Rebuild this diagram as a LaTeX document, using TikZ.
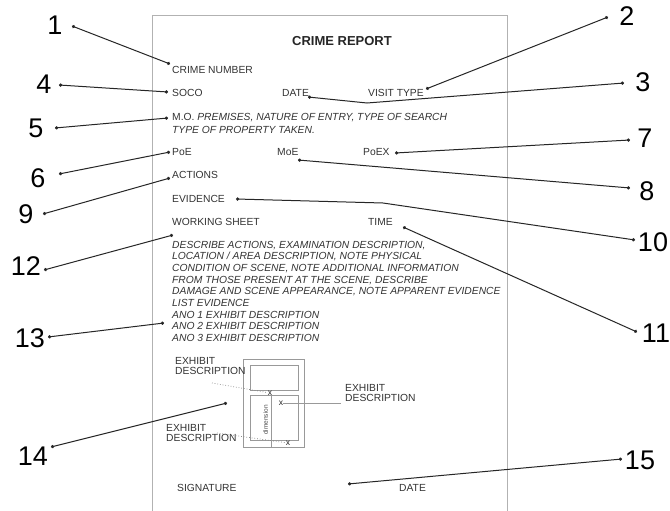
\documentclass[tikz,border=0pt]{standalone}
\usepackage{fontspec}
\setmainfont{Liberation Sans}
\usetikzlibrary{arrows.meta}
\begin{document}
\begin{tikzpicture}[x=1pt,y=-1pt,
  num/.style={inner sep=0pt, font=\fontsize{27}{27}\selectfont, text=black},
  lbl/.style={inner sep=0pt, anchor=base west, font=\fontsize{10.3}{12}\selectfont, text=black!80},
  itl/.style={lbl, font=\fontsize{10.3}{12}\selectfont\itshape},
  conn/.style={black!85, line width=1pt, {Circle[length=3.2pt]}-{Circle[length=3.2pt]}},
  pageline/.style={black!30, line width=0.6pt},
  exline/.style={black!40, line width=0.5pt},
  exdash/.style={black!50, line width=0.7pt, dotted},
  xmark/.style={inner sep=0pt, font=\fontsize{8.5}{8.5}\selectfont, text=black!85}]
\useasboundingbox (0,0) rectangle (670,511);
\clip (0,0) rectangle (670,511);
\fill[white] (0,0) rectangle (670,511);
% page
\draw[pageline] (152.5,15) rectangle (507.5,530);
\node[inner sep=0pt, font=\fontsize{13}{13}\selectfont\bfseries, text=black!85] (title) at (342,41) {CRIME REPORT};
% labels
\node[lbl] (crimeno) at (172,74) {CRIME NUMBER};
\node[lbl] (soco) at (172,97) {SOCO};
\node[lbl] (date1) at (282,97) {DATE};
\node[lbl] (visit) at (368,97) {VISIT TYPE};
\node[lbl] (mo) at (172,121) {M.O. \textit{PREMISES, NATURE OF ENTRY, TYPE OF SEARCH}};
\node[itl] (mo2) at (172,133) {TYPE OF PROPERTY TAKEN.};
\node[lbl] (poe) at (172,155) {PoE};
\node[lbl] (moe) at (277,155) {MoE};
\node[lbl] (poex) at (363,155) {PoEX};
\node[lbl] (actions) at (172,178) {ACTIONS};
\node[lbl] (evidence) at (172,202) {EVIDENCE};
\node[lbl] (working) at (172,225) {WORKING SHEET};
\node[lbl] (time) at (368,225) {TIME};
\node[itl] (w1) at (172,248) {DESCRIBE ACTIONS, EXAMINATION DESCRIPTION,};
\node[itl] (w2) at (172,259.7) {LOCATION / AREA DESCRIPTION, NOTE PHYSICAL};
\node[itl] (w3) at (172,271.4) {CONDITION OF SCENE, NOTE ADDITIONAL INFORMATION};
\node[itl] (w4) at (172,283.1) {FROM THOSE PRESENT AT THE SCENE, DESCRIBE};
\node[itl] (w5) at (172,294.8) {DAMAGE AND SCENE APPEARANCE, NOTE APPARENT EVIDENCE};
\node[itl] (w6) at (172,306.5) {LIST EVIDENCE};
\node[itl] (w7) at (172,318.2) {ANO 1 EXHIBIT DESCRIPTION};
\node[itl] (w8) at (172,329.9) {ANO 2 EXHIBIT DESCRIPTION};
\node[itl] (w9) at (172,341.6) {ANO 3 EXHIBIT DESCRIPTION};
\node[lbl] (sig) at (177,491) {SIGNATURE};
\node[lbl] (date2) at (399,491) {DATE};
% exhibit sketch
\draw[exline] (243,359) rectangle (304,447);
\draw[exline] (250,365) rectangle (298,390);
\draw[exline] (250,395) rectangle (298,440);
\draw[exline] (271,395) -- (271,447);
\node[inner sep=0pt, rotate=90, font=\fontsize{6.5}{6.5}\selectfont, text=black!70] (dim) at (265.5,420) {dimension};
\node[lbl, align=left, anchor=west] (ex1) at (175,366) {EXHIBIT\\[-2pt]DESCRIPTION};
\node[lbl, align=left, anchor=west] (ex2) at (345,393) {EXHIBIT\\[-2pt]DESCRIPTION};
\node[lbl, align=left, anchor=west] (ex3) at (166,433) {EXHIBIT\\[-2pt]DESCRIPTION};
\node[xmark] (x1) at (270,393) {x};
\node[xmark] (x2) at (281,403) {x};
\node[xmark] (x3) at (288,443) {x};
\coordinate (ex1e) at (212,383);
\coordinate (ex2e) at (341,403);
\coordinate (ex3e) at (217,433);
\draw[exdash] (ex1e) -- (x1);
\draw[exline] (x2) -- (ex2e);
\draw[exdash] (ex3e) -- (x3);
% numbers
\node[num] (n1) at (55,25) {1};
\node[num] (n2) at (627,16) {2};
\node[num] (n3) at (643,82) {3};
\node[num] (n4) at (44,84) {4};
\node[num] (n5) at (36,128) {5};
\node[num] (n6) at (38,178) {6};
\node[num] (n7) at (645,138) {7};
\node[num] (n8) at (647,191) {8};
\node[num] (n9) at (26,214) {9};
\node[num] (n10) at (653,242) {10};
\node[num] (n11) at (656,333) {11};
\node[num] (n12) at (26,266) {12};
\node[num] (n13) at (30,338) {13};
\node[num] (n14) at (33,456) {14};
\node[num] (n15) at (640,460) {15};
% connector end points
\coordinate (s1) at (72,26);   \coordinate (e1) at (170,64);
\coordinate (s2) at (608,17);  \coordinate (e2) at (426,89);
\coordinate (s3) at (624,83);  \coordinate (k3) at (367,103); \coordinate (e3) at (308,97);
\coordinate (s4) at (59,85);   \coordinate (e4) at (168,92);
\coordinate (s5) at (55,128);  \coordinate (e5) at (168,118);
\coordinate (s6) at (59,174);  \coordinate (e6) at (170,152);
\coordinate (s7) at (630,140); \coordinate (e7) at (395,153);
\coordinate (s8) at (630,188); \coordinate (e8) at (298,160);
\coordinate (s9) at (43,214);  \coordinate (e9) at (170,178);
\coordinate (s10) at (635,240); \coordinate (k10) at (383,203); \coordinate (e10) at (236,199);
\coordinate (s11) at (637,332); \coordinate (e11) at (403,227);
\coordinate (s12) at (44,270); \coordinate (e12) at (173,235);
\coordinate (s13) at (48,337); \coordinate (e13) at (164,323);
\coordinate (s14) at (51,447); \coordinate (e14) at (227,403);
\coordinate (s15) at (622,459); \coordinate (e15) at (348,484);
% connectors
\draw[conn] (s1) -- (e1);
\draw[conn] (s2) -- (e2);
\draw[conn] (s3) -- (k3) -- (e3);
\draw[conn] (s4) -- (e4);
\draw[conn] (s5) -- (e5);
\draw[conn] (s6) -- (e6);
\draw[conn] (s7) -- (e7);
\draw[conn] (s8) -- (e8);
\draw[conn] (s9) -- (e9);
\draw[conn] (s10) -- (k10) -- (e10);
\draw[conn] (s11) -- (e11);
\draw[conn] (s12) -- (e12);
\draw[conn] (s13) -- (e13);
\draw[conn] (s14) -- (e14);
\draw[conn] (s15) -- (e15);
\end{tikzpicture}
\end{document}
